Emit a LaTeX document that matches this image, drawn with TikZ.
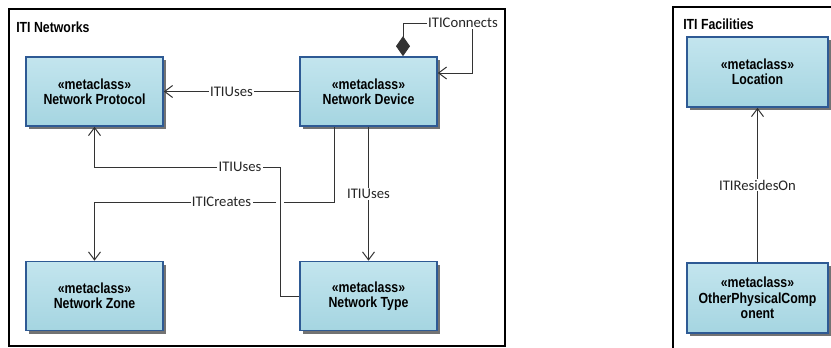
\documentclass[tikz,border=0pt]{standalone}
\usepackage{fontspec}
\setmainfont{Liberation Sans}
\newfontfamily\boxfont{Liberation Sans}[FakeStretch=0.84]
\newfontfamily\lblfont{Carlito}
\usetikzlibrary{arrows.meta,shadows,calc}
\definecolor{boxtop}{HTML}{C3E5EE}
\definecolor{boxbot}{HTML}{A5D5E1}
\definecolor{boxline}{HTML}{2E5A94}
\definecolor{connc}{HTML}{333333}
\begin{document}
\begin{tikzpicture}[x=0.75pt,y=-0.75pt,
 metabox/.style={draw=boxline, line width=1.2pt, top color=boxtop, bottom color=boxbot,
   minimum width=102.75pt, minimum height=51.75pt, align=center,
   font=\boxfont\bfseries\fontsize{11}{11.5}\selectfont, inner sep=2pt,
   drop shadow={shadow xshift=2.25pt, shadow yshift=-2.25pt, fill=black!55, opacity=1}},
 bigbox/.style={metabox, minimum width=105.75pt, minimum height=52.5pt},
 conn/.style={draw=connc, line width=0.75pt},
 lbl/.style={fill=white, inner sep=1pt, font=\lblfont\fontsize{11}{12}\selectfont, text=black!85},
 frame/.style={draw=black, line width=1.2pt},
 ttl/.style={font=\boxfont\bfseries\fontsize{11}{12}\selectfont, anchor=west, inner sep=0pt},
 >={Straight Barb[length=6pt,width=9pt]}]
\useasboundingbox (0,0) rectangle (831,347);
\clip (0,0) rectangle (831,347);
% frames
\draw[frame] (9,9) rectangle (505,346);
\draw[frame] (673,360) -- (673,7) -- (845,7);
\node[ttl] (t1) at (16,27) {ITI Networks};
\node[ttl] (t2) at (683,24) {ITI Facilities};
% boxes
\node[metabox] (proto) at (94.5,91.5) {«metaclass»\\Network Protocol};
\node[metabox] (dev) at (368.5,91.5) {«metaclass»\\Network Device};
\node[metabox] (zone) at (94.5,296) {«metaclass»\\Network Zone};
\node[metabox] (type) at (368.5,296) {«metaclass»\\Network Type};
\node[bigbox] (loc) at (757.5,72) {«metaclass»\\Location};
\node[bigbox] (opc) at (757.5,298) {«metaclass»\\OtherPhysicalComp\\onent};
% connectors
\draw[conn,->] (dev.west) -- node[lbl,pos=0.5]{ITIUses} (proto.east);
\coordinate (c1) at (280,167);
\coordinate (c2) at (94.5,167);
\draw[conn,->] (type.west) -| (c1) -- node[lbl,pos=0.216]{ITIUses} (c2) -- (proto.south);
\coordinate (d1) at ($(dev.south)+(-34.5,0)$);
\coordinate (g1) at (284,202);
\coordinate (g2) at (276,202);
\coordinate (z1) at (94.5,202);
\draw[conn] (d1) |- (g1);
\draw[conn,->] (g2) -- node[lbl,pos=0.3]{ITICreates} (z1) -- (zone.north);
\draw[conn,->] (dev.south) -- node[lbl]{ITIUses} (type.north);
\coordinate (ds) at ($(dev.north)+(34.5,0)$);
\coordinate (k1) at (403,23);
\coordinate (k2) at (472,23);
\coordinate (k3) at (472,73);
\draw[conn,{Diamond[length=15pt,width=10.5pt]}->] (ds) -- (k1) -- node[lbl,pos=0.87]{ITIConnects} (k2) -- (k3) -- (dev.east |- k3);
\draw[conn,->] (opc.north) -- node[lbl]{ITIResidesOn} (loc.south);
\end{tikzpicture}
\end{document}
